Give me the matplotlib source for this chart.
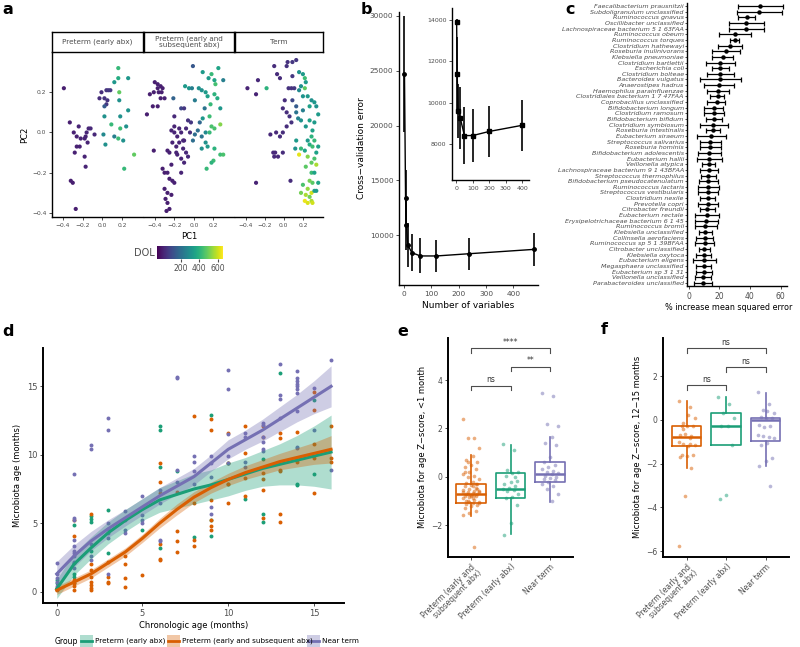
import numpy as np
import matplotlib.pyplot as plt
from matplotlib.patches import Rectangle
from matplotlib.lines import Line2D

W, H = 800, 647
GREY = "#4D4D4D"
GREEN, ORANGE, PURPLE = "#1B9E77", "#D95F02", "#7570B3"

# ---------------- panel a: PCA by group, coloured by DOL ----------------
a_titles = ["Preterm (early abx)", "Preterm (early and\nsubsequent abx)", "Term"]
a_pts1 = [(-0.39, 0.22, 10), (-0.33, 0.05, 10), (-0.32, -0.24, 10), (-0.30, -0.25, 10),
          (-0.27, -0.38, 10), (-0.24, 0.03, 20), (-0.29, 0.00, 15), (-0.26, -0.02, 15),
          (-0.22, -0.03, 20), (-0.18, -0.03, 20), (-0.16, 0.00, 25), (-0.14, 0.02, 25),
          (-0.12, 0.02, 30), (-0.17, -0.02, 20), (-0.23, -0.07, 15), (-0.26, -0.07, 15),
          (-0.28, -0.10, 15), (-0.18, -0.12, 20), (-0.15, -0.05, 20), (-0.08, -0.01, 30),
          (-0.17, -0.17, 20), (-0.03, 0.17, 40), (-0.01, 0.20, 40), (0.02, 0.17, 50),
          (0.04, 0.14, 60), (0.05, 0.16, 50), (0.04, 0.21, 50), (0.06, 0.21, 60),
          (0.08, 0.21, 60), (0.02, 0.13, 150), (0.02, 0.08, 300), (0.01, -0.01, 280),
          (0.03, -0.06, 300), (0.09, 0.04, 420), (0.12, -0.02, 250), (0.16, -0.03, 430),
          (0.18, 0.08, 300), (0.18, 0.02, 430), (0.24, 0.03, 300), (0.17, 0.16, 300),
          (0.17, 0.20, 480), (0.12, 0.25, 320), (0.16, 0.27, 380), (0.16, 0.32, 420),
          (0.26, 0.27, 320), (0.26, 0.11, 310), (0.21, -0.04, 300), (0.32, -0.11, 480),
          (0.22, -0.18, 420)]
a_pts2 = [(-0.40, 0.25, 10), (-0.37, 0.24, 10), (-0.34, 0.23, 10), (-0.32, 0.22, 10),
          (-0.37, 0.22, 10), (-0.41, 0.20, 10), (-0.36, 0.20, 10), (-0.33, 0.20, 10),
          (-0.30, 0.17, 15), (-0.34, 0.17, 10), (-0.45, 0.19, 10), (-0.42, 0.13, 10),
          (-0.37, 0.13, 10), (-0.48, 0.09, 10), (-0.41, -0.09, 10), (-0.23, 0.01, 20),
          (-0.20, 0.00, 20), (-0.17, -0.02, 20), (-0.13, 0.00, 25), (-0.10, -0.04, 25),
          (-0.15, -0.05, 20), (-0.18, -0.07, 20), (-0.11, -0.08, 25), (-0.08, -0.10, 30),
          (-0.22, -0.05, 20), (-0.25, -0.10, 15), (-0.17, -0.11, 20), (-0.06, -0.12, 30),
          (-0.13, -0.13, 25), (-0.10, -0.15, 25), (-0.20, 0.03, 20), (-0.08, 0.02, 30),
          (-0.04, 0.00, 40), (-0.15, 0.02, 20), (-0.18, -0.10, 20), (-0.27, -0.09, 15),
          (-0.11, -0.04, 25), (-0.23, -0.16, 15), (-0.27, -0.20, 15), (-0.30, -0.20, 10),
          (-0.25, -0.23, 10), (-0.22, -0.24, 15), (-0.30, -0.28, 10), (-0.27, -0.30, 10),
          (-0.23, -0.31, 10), (-0.29, -0.33, 10), (-0.27, -0.35, 10), (-0.25, -0.38, 10),
          (-0.28, -0.39, 10), (-0.20, -0.25, 15), (-0.32, -0.18, 10), (-0.13, -0.20, 20),
          (-0.20, 0.08, 30), (-0.13, 0.12, 100), (-0.10, 0.12, 60), (-0.06, 0.06, 50),
          (-0.03, 0.05, 60), (0.06, 0.05, 180), (0.01, -0.01, 200), (0.04, 0.01, 200),
          (0.08, -0.02, 220), (0.12, 0.00, 280), (-0.01, 0.33, 140), (-0.21, 0.17, 170),
          (-0.09, 0.23, 330), (-0.05, 0.22, 320), (-0.02, 0.22, 250), (0.01, 0.16, 240),
          (0.05, 0.22, 300), (0.08, 0.21, 300), (0.09, 0.30, 330), (0.12, 0.20, 330),
          (0.14, 0.18, 350), (0.15, 0.27, 330), (0.18, 0.29, 420), (0.21, 0.26, 360),
          (0.22, 0.24, 440), (0.25, 0.32, 360), (0.30, 0.26, 250), (0.21, 0.19, 400),
          (0.24, 0.17, 380), (0.27, 0.12, 320), (0.17, 0.14, 420), (0.11, 0.12, 220),
          (0.09, 0.07, 320), (0.16, 0.08, 430), (0.18, 0.03, 450), (0.21, 0.02, 450),
          (0.27, 0.04, 520), (0.12, -0.05, 300), (0.08, -0.08, 300), (0.14, -0.07, 330),
          (0.21, -0.08, 400), (0.27, -0.11, 430), (0.30, -0.11, 450), (0.20, -0.14, 430),
          (0.18, -0.15, 400), (0.13, -0.18, 420), (0.16, 0.00, 420), (-0.01, -0.04, 200)]
a_pts3 = [(-0.38, 0.22, 20), (-0.27, 0.26, 30), (-0.29, 0.19, 20), (-0.18, 0.22, 400),
          (-0.10, 0.33, 40), (-0.07, 0.29, 40), (-0.04, 0.27, 40), (0.03, 0.33, 50),
          (0.04, 0.35, 50), (0.13, 0.36, 60), (0.09, 0.35, 60), (0.09, 0.28, 60),
          (0.11, 0.22, 60), (0.08, 0.22, 50), (0.05, 0.22, 50), (0.01, 0.16, 40),
          (-0.01, 0.12, 40), (0.03, 0.10, 40), (0.06, 0.08, 50), (0.08, 0.05, 50),
          (0.03, 0.03, 40), (-0.01, 0.00, 40), (-0.08, 0.00, 30), (-0.14, -0.01, 30),
          (-0.04, -0.02, 40), (-0.11, -0.10, 30), (-0.09, -0.10, 30), (-0.06, -0.12, 30),
          (-0.10, -0.12, 30), (-0.01, -0.10, 40), (-0.29, -0.25, 20), (0.07, -0.24, 40),
          (0.09, 0.16, 100), (0.13, 0.13, 150), (0.16, 0.30, 300), (0.20, 0.29, 330),
          (0.22, 0.27, 430), (0.23, 0.25, 330), (0.18, 0.23, 300), (0.22, 0.22, 480),
          (0.16, 0.21, 280), (0.20, 0.18, 310), (0.25, 0.18, 330), (0.29, 0.16, 300),
          (0.32, 0.15, 320), (0.34, 0.13, 300), (0.27, 0.13, 350), (0.20, 0.11, 250),
          (0.13, 0.10, 220), (0.15, 0.07, 260), (0.18, 0.06, 300), (0.27, 0.06, 350),
          (0.32, 0.05, 330), (0.36, 0.09, 330), (0.23, 0.03, 320), (0.30, 0.01, 350),
          (0.29, -0.02, 400), (0.25, -0.04, 330), (0.32, -0.04, 420), (0.27, -0.06, 380),
          (0.30, -0.07, 430), (0.36, -0.07, 350), (0.13, -0.04, 330), (0.18, -0.08, 420),
          (0.22, -0.09, 360), (0.16, -0.11, 620), (0.25, -0.12, 520), (0.32, -0.13, 450),
          (0.29, -0.15, 480), (0.34, -0.16, 560), (0.23, -0.17, 470), (0.29, -0.20, 430),
          (0.32, -0.20, 350), (0.36, -0.25, 360), (0.30, -0.25, 470), (0.25, -0.28, 540),
          (0.20, -0.26, 450), (0.29, -0.30, 600), (0.32, -0.29, 350), (0.27, -0.32, 500),
          (0.22, -0.34, 630), (0.25, -0.35, 610), (0.29, -0.34, 560), (0.23, -0.31, 560),
          (0.30, -0.35, 600), (0.34, -0.29, 330), (0.12, -0.08, 300), (0.34, -0.10, 350),
          (0.27, -0.24, 500), (0.18, -0.30, 500)]

# ---------------- panel b: cross-validation error ----------------
b_nvar = [2, 6, 9, 14, 29, 60, 119, 236, 475]
b_err = [24700, 13400, 10900, 9100, 8400, 8100, 8100, 8300, 8700]
b_sd = [5300, 2500, 2300, 2000, 1700, 1600, 1450, 1450, 1500]
b_in_nvar = [3, 6, 12, 25, 50, 100, 200, 400]
b_in_err = [13900, 11400, 9600, 9250, 8400, 8400, 8600, 8900]
b_in_sd = [150, 1800, 1300, 1500, 1400, 1300, 1250, 1250]

# ---------------- panel c: variable importance ----------------
c_species = ["Faecalibacterium prausnitzii", "Subdoligranulum unclassified", "Ruminococcus gnavus",
             "Oscillibacter unclassified", "Lachnospiraceae bacterium 5 1 63FAA", "Ruminococcus obeum",
             "Ruminococcus torques", "Clostridium hathewayi", "Roseburia inulinivorans",
             "Klebsiella pneumoniae", "Clostridium bartlettii", "Escherichia coli",
             "Clostridium bolteae", "Bacteroides vulgatus", "Anaerostipes hadrus",
             "Haemophilus parainfluenzae", "Clostridiales bacterium 1 7 47FAA",
             "Coprobacillus unclassified", "Bifidobacterium longum", "Clostridium ramosum",
             "Bifidobacterium bifidum", "Clostridium symbiosum", "Roseburia intestinalis",
             "Eubacterium siraeum", "Streptococcus salivarius", "Roseburia hominis",
             "Bifidobacterium adolescentis", "Eubacterium hallii", "Veillonella atypica",
             "Lachnospiraceae bacterium 9 1 43BFAA", "Streptococcus thermophilus",
             "Bifidobacterium pseudocatenulatum", "Ruminococcus lactaris",
             "Streptococcus vestibularis", "Clostridium nexile", "Prevotella copri",
             "Citrobacter freundii", "Eubacterium rectale", "Erysipelotrichaceae bacterium 6 1 45",
             "Ruminococcus bromii", "Klebsiella unclassified", "Collinsella aerofaciens",
             "Ruminococcus sp 5 1 39BFAA", "Citrobacter unclassified", "Klebsiella oxytoca",
             "Eubacterium eligens", "Megasphaera unclassified", "Eubacterium sp 3 1 31",
             "Veillonella unclassified", "Parabacteroides unclassified"]
c_mean = [46.5, 45.9, 37.8, 37.6, 37.6, 30.2, 30.0, 26.7, 24.1, 22.2, 20.4, 20.4, 20.4, 20.4,
          20.0, 19.3, 18.9, 18.3, 16.5, 16.5, 16.5, 16.1, 16.1, 14.6, 13.9, 13.9, 13.5, 13.5,
          13.0, 13.0, 12.8, 12.8, 12.8, 12.8, 12.4, 12.4, 12.2, 11.7, 11.3, 10.9, 10.7, 10.4,
          10.4, 10.2, 10.0, 10.0, 9.8, 9.6, 9.3, 9.1]
c_lo = [32.2, 31.3, 32.4, 26.1, 26.1, 19.8, 26.7, 19.1, 15.0, 15.2, 11.3, 15.0, 11.7, 7.4,
        10.0, 12.2, 14.1, 12.2, 10.2, 10.2, 11.3, 7.4, 11.5, 5.2, 7.4, 7.4, 5.7, 5.2,
        8.5, 7.0, 7.8, 6.5, 5.9, 5.9, 7.6, 5.7, 7.0, 3.9, 3.9, 3.9, 6.5, 4.8,
        4.1, 6.7, 5.0, 2.6, 5.0, 4.6, 4.3, 3.5]
c_hi = [61.3, 60.7, 43.5, 49.3, 49.3, 40.7, 33.0, 34.6, 33.3, 28.9, 30.0, 26.3, 29.6, 33.9,
        29.8, 26.3, 23.3, 23.9, 22.6, 23.0, 21.7, 25.7, 20.7, 24.6, 21.1, 21.1, 21.1, 21.7,
        17.4, 19.3, 17.8, 19.3, 19.8, 19.3, 17.2, 19.3, 17.2, 19.6, 19.3, 18.3, 15.0, 16.1,
        16.7, 13.9, 14.8, 17.6, 14.6, 15.0, 14.3, 15.0]

# ---------------- panel d: microbiota age ----------------
d_months = list(range(17))
d_fit_green = [0.2, 2.0, 3.2, 4.3, 5.2, 6.0, 6.7, 7.1, 7.5, 7.8, 8.2, 8.6, 9.0, 9.3, 9.6, 9.9, 10.2]
d_fit_orange = [0.1, 0.7, 1.3, 2.1, 2.9, 3.9, 5.0, 6.0, 6.9, 7.6, 8.2, 8.7, 9.1, 9.5, 9.8, 10.1, 10.4]
d_fit_purple = [1.3, 2.6, 3.7, 4.6, 5.4, 6.2, 7.0, 7.7, 8.4, 9.4, 10.4, 11.1, 11.8, 12.6, 13.4, 14.2, 15.0]
d_ci_green = [0.7, 0.8, 0.8, 0.8, 0.8, 0.8, 0.9, 1.0, 1.1, 1.1, 1.2, 1.2, 1.3, 1.5, 1.8, 2.2, 2.7]
d_ci_orange = [0.3, 0.3, 0.3, 0.3, 0.3, 0.3, 0.35, 0.4, 0.4, 0.4, 0.45, 0.5, 0.55, 0.6, 0.7, 0.8, 1.0]
d_ci_purple = [0.9, 0.8, 0.7, 0.65, 0.6, 0.6, 0.6, 0.6, 0.6, 0.6, 0.7, 0.7, 0.8, 0.9, 1.0, 1.2, 1.5]
d_pts_purple = {0: [2.1, 1.3, 1.0, 0.7, 0.4, 0.2], 1: [8.6, 5.4, 5.2, 3.8, 3.3, 3.0, 2.8, 2.6, 2.2, 1.7],
                2: [10.7, 10.4, 3.5, 2.6, 2.3], 3: [12.7, 11.8, 5.0, 4.6, 4.3, 3.9, 1.3],
                4: [5.9, 5.2, 4.5, 4.3], 5: [7.0, 6.1, 5.6, 5.2, 5.0], 6: [7.4, 6.5, 3.8, 3.7],
                7: [15.7, 15.6, 8.9, 8.0], 8: [9.9, 9.5, 8.8, 7.9], 9: [9.9, 9.4, 8.4, 6.2, 5.7],
                10: [16.2, 14.8, 11.5, 9.9, 9.4], 11: [11.6, 11.3, 9.5, 9.1],
                12: [12.3, 12.2, 11.3, 10.9, 10.4, 10.3], 13: [16.6, 14.4, 14.1, 12.7],
                14: [16.1, 15.6, 15.4, 15.2, 15.0, 14.8, 14.5, 13.2, 10.6, 10.5],
                15: [14.9, 11.8], 16: [16.95, 8.9]}
d_pts_green = {0: [0.85, 0.6, 0.3], 1: [4.9, 2.1, 1.3, 1.1, 0.6], 2: [5.5, 5.3, 5.1, 3.0],
               3: [6.0, 2.8], 5: [4.5], 6: [12.1, 11.8, 9.1, 3.2], 7: [8.8], 8: [4.0],
               9: [12.9, 5.2, 4.1], 10: [9.4, 7.9], 11: [6.8], 12: [9.7, 5.7, 5.1],
               13: [16.0], 14: [9.6, 7.9, 7.8], 15: [14.0, 8.6]}
d_pts_orange = {0: [0.25, 0.1], 1: [5.2, 4.1, 0.85, 0.6, 0.4, 0.1],
                2: [5.7, 2.0, 1.6, 1.1, 0.7, 0.5, 0.25, 0.1], 3: [2.2, 1.1, 0.7, 0.6],
                4: [2.6, 2.0, 1.0, 0.35], 5: [1.2], 6: [9.4, 8.0, 7.2, 3.5, 2.4, 2.3],
                7: [7.3, 4.4, 3.7, 2.9], 8: [12.8, 6.5, 3.8, 3.3], 9: [12.6, 11.8, 6.7, 5.2, 4.8, 4.5],
                10: [11.6, 9.4, 7.9, 6.5], 11: [12.1, 10.1, 8.3, 7.0],
                12: [12.1, 11.3, 8.7, 8.2, 7.4, 5.4], 13: [11.6, 11.2, 8.9, 8.8, 5.7, 5.1],
                14: [11.7, 9.5], 15: [14.6, 13.3, 10.8, 9.8, 7.2], 16: [12.1, 9.8, 9.5]}

# ---------------- panels e, f: z-scores ----------------
box_groups = ["Preterm (early and\nsubsequent abx)", "Preterm (early abx)", "Near term"]
box_colors = [ORANGE, GREEN, PURPLE]
# (whislo, q1, med, q3, whishi)
e_stats = [(-1.63, -1.10, -0.72, -0.31, 0.90), (-2.37, -0.87, -0.52, 0.17, 1.31),
           (-1.03, -0.22, 0.12, 0.62, 1.66)]
f_stats = [(-2.20, -1.22, -0.80, -0.30, 0.86), (-1.15, -1.15, -0.29, 0.30, 1.03),
           (-2.13, -0.99, -0.03, 0.07, 1.22)]
e_pts = [[2.4, 1.6, 1.6, 1.2, 0.85, 0.7, 0.6, 0.5, 0.4, 0.3, 0.2, 0.1, 0.05, 0.0, -0.1, -0.2,
          -0.25, -0.3, -0.35, -0.4, -0.45, -0.5, -0.55, -0.6, -0.62, -0.65, -0.68, -0.7, -0.72,
          -0.75, -0.78, -0.8, -0.85, -0.9, -0.95, -1.0, -1.05, -1.1, -1.12, -1.15, -1.2, -1.3,
          -1.4, -1.5, -1.6, -2.9, -0.7, -0.6, -0.9, -1.0, -0.5, -0.8, 0.2, -0.3, -1.05, -0.65,
          -0.75, 0.6, -1.1, -0.4],
         [1.35, 1.1, 0.28, 0.2, 0.15, 0.03, -0.16, -0.2, -0.3, -0.4, -0.45, -0.5, -0.55, -0.6,
          -0.7, -0.85, -0.9, -1.17, -1.9, -2.4, 0.0],
         [3.45, 3.34, 2.17, 2.1, 1.66, 1.4, 1.3, 0.8, 0.6, 0.5, 0.4, 0.3, 0.25, 0.2, 0.15, 0.1,
          0.05, 0.0, -0.05, -0.1, -0.15, -0.2, -0.3, -0.4, -0.5, -0.7, -1.0]]
f_pts = [[0.87, 0.6, -0.15, 0.1, 0.2, -0.3, -0.3, -0.28, -0.7, -0.75, -0.65, -1.0, -1.1, -1.1,
          -1.15, -1.2, -1.6, -1.6, -1.65, -1.7, -2.2, -3.47, -5.78, -0.85, -0.4],
         [1.03, 0.73, 0.3, 0.08, -0.28, -0.28, -1.15, -3.45, -3.6],
         [1.25, 0.72, 0.47, 0.33, 0.38, 0.15, 0.1, 0.08, -0.22, -0.28, -0.35, -0.7, -0.8, -0.75,
          -0.85, -1.05, -1.17, -1.75, -1.9, -2.13, -3.05]]
e_sig = [(1, 2, 3.76, "ns"), (2, 3, 4.55, "**"), (1, 3, 5.31, "****")]
f_sig = [(1, 2, 1.57, "ns"), (2, 3, 2.41, "ns"), (1, 3, 3.26, "ns")]

fig = plt.figure(figsize=(8, 6.47), dpi=100)


def rect(l, t, r, b):
    return [l / W, 1 - b / H, (r - l) / W, (b - t) / H]


def classic(ax, fs=6):
    for s in ["top", "right"]:
        ax.spines[s].set_visible(False)
    for s in ["left", "bottom"]:
        ax.spines[s].set_linewidth(1.0)
    ax.tick_params(labelsize=fs, colors=GREY, length=2.5, width=0.6, pad=1.5)
    ax.tick_params(axis="both", which="both", color="0.2")


# ---- a ----
facets = [(52, 143), (144, 234), (235, 323)]
for i, (pts, (l, r)) in enumerate(zip([a_pts1, a_pts2, a_pts3], facets)):
    ax = fig.add_axes(rect(l, 52, r, 217))
    xs = [p[0] for p in pts]
    ys = [p[1] for p in pts]
    cs = [p[2] for p in pts]
    sc = ax.scatter(xs, ys, c=cs, cmap="viridis", vmin=-50, vmax=650, s=9, linewidths=0)
    ax.set_xlim(-0.51, 0.41)
    ax.set_ylim(-0.42, 0.40)
    classic(ax, 4.3)
    ax.set_xticks([-0.4, -0.2, 0.0, 0.2])
    ax.set_xticklabels(["\u22120.4", "\u22120.2", "0.0", "0.2"])
    ax.set_yticks([-0.4, -0.2, 0.0, 0.2])
    ax.set_yticklabels(["\u22120.4", "\u22120.2", "0.0", "0.2"])
    if i > 0:
        ax.spines["left"].set_visible(False)
        ax.tick_params(axis="y", left=False, labelleft=False)
    else:
        ax.set_ylabel("PC2", fontsize=6, labelpad=2)
    if i == 1:
        ax.set_xlabel("PC1", fontsize=6, labelpad=3)
    sax = fig.add_axes(rect(l, 32, r, 52))
    sax.set_xticks([])
    sax.set_yticks([])
    for s in sax.spines.values():
        s.set_linewidth(1.0)
    sax.text(0.5, 0.5, a_titles[i], ha="center", va="center", fontsize=5.2, color=GREY,
             linespacing=1.0, transform=sax.transAxes)

cax = fig.add_axes(rect(157, 246, 223, 259))
cb = fig.colorbar(sc, cax=cax, orientation="horizontal")
cb.outline.set_visible(False)
cb.set_ticks([200, 400, 600])
cax.tick_params(labelsize=5.5, colors=GREY, length=2, pad=1.5)
fig.text(134 / W, 1 - 253 / H, "DOL", fontsize=7, color=GREY, va="center")

# ---- b ----
ax = fig.add_axes(rect(399, 12, 538, 285))
ax.errorbar(b_nvar, b_err, yerr=b_sd, color="black", lw=1.0, elinewidth=1.2,
            marker="o", ms=2.5)
ax.set_xlim(-18, 490)
ax.set_ylim(5450, 30360)
classic(ax, 5.3)
ax.set_xticks([0, 100, 200, 300, 400])
ax.set_yticks([10000, 15000, 20000, 25000, 30000])
ax.set_xlabel("Number of variables", fontsize=6.5, labelpad=3)
ax.set_ylabel("Cross\u2212validation error", fontsize=6.5, labelpad=3)

ax = fig.add_axes(rect(452, 8, 529, 180))
ax.errorbar(b_in_nvar, b_in_err, yerr=b_in_sd, color="black", lw=1.0, elinewidth=1.2,
            marker="s", ms=2.3)
ax.set_xlim(-25, 440)
ax.set_ylim(6240, 14600)
classic(ax, 4.5)
ax.set_xticks([0, 100, 200, 300, 400])
ax.set_yticks([8000, 10000, 12000, 14000])

# ---- c ----
ax = fig.add_axes(rect(687.3, 2.6, 786.7, 286.3))
ypos = np.arange(1, len(c_species) + 1)
c_mean_a = np.array(c_mean)
xerr = [c_mean_a - np.array(c_lo), np.array(c_hi) - c_mean_a]
ax.errorbar(c_mean, ypos, xerr=xerr, fmt="o", color="black", ms=2.2, elinewidth=0.9,
            capsize=1.8, capthick=0.9)
ax.set_ylim(len(c_species) + 0.6, 0.4)
ax.set_xlim(-1, 64)
classic(ax, 5.5)
ax.set_yticks(ypos)
ax.set_yticklabels(c_species, fontsize=4.6, style="italic")
ax.tick_params(axis="y", length=1.5, pad=1)
ax.set_xticks([0, 20, 40, 60])
ax.set_xlabel("% increase mean squared error", fontsize=5.8, labelpad=2)
ax.xaxis.set_label_coords(0.42, -0.058)

# ---- d ----
ax = fig.add_axes(rect(42.7, 348, 344.3, 603.3))
groups = [(d_pts_green, d_fit_green, d_ci_green, GREEN),
          (d_pts_orange, d_fit_orange, d_ci_orange, ORANGE),
          (d_pts_purple, d_fit_purple, d_ci_purple, PURPLE)]
for pts, fit, ci, col in groups:
    xs = [m for m, vals in pts.items() for v in vals]
    ys = [v for m, vals in pts.items() for v in vals]
    ax.scatter(xs, ys, s=8, color=col, linewidths=0, zorder=2)
for pts, fit, ci, col in groups:
    fit = np.array(fit)
    ci = np.array(ci)
    ax.fill_between(d_months, fit - ci, fit + ci, color=col, alpha=0.35, lw=0, zorder=3)
    ax.plot(d_months, fit, color=col, lw=2.2, zorder=4)
ax.set_xlim(-0.82, 16.77)
ax.set_ylim(-0.85, 17.8)
classic(ax, 6)
ax.spines["left"].set_linewidth(1.4)
ax.spines["bottom"].set_linewidth(1.4)
ax.set_xticks([0, 5, 10, 15])
ax.set_yticks([0, 5, 10, 15])
ax.set_xlabel("Chronologic age (months)", fontsize=6, labelpad=2)
ax.set_ylabel("Microbiota age (months)", fontsize=6, labelpad=3)

# legend for d
fig.text(55 / W, 1 - 641 / H, "Group", fontsize=5.5, va="center", color="black")
leg_items = [(80, "Preterm (early abx)", GREEN), (167, "Preterm (early and subsequent abx)", ORANGE),
             (307, "Near term", PURPLE)]
for lx, lab, col in leg_items:
    fig.add_artist(Rectangle((lx / W, 1 - 647.5 / H), 13 / W, 13 / H, transform=fig.transFigure,
                             facecolor=col, alpha=0.35, lw=0))
    fig.add_artist(Line2D([(lx + 1) / W, (lx + 12) / W], [1 - 641 / H, 1 - 641 / H],
                          transform=fig.transFigure, color=col, lw=2))
    fig.text((lx + 15) / W, 1 - 641 / H, lab, fontsize=5.2, va="center", color="black")


# ---- e, f ----
def box_panel(l, stats, pts, sig, ylim, yticks, ylabel):
    ax = fig.add_axes(rect(l, 338, l + 125.3, 556.7))
    bstats = []
    for s in stats:
        bstats.append(dict(whislo=s[0], q1=s[1], med=s[2], q3=s[3], whishi=s[4], fliers=[]))
    for i, (bs, col) in enumerate(zip(bstats, box_colors)):
        ax.bxp([bs], positions=[i + 1], widths=0.75, showfliers=False, showcaps=False,
               boxprops=dict(color=col, lw=1.2), whiskerprops=dict(color=col, lw=1.2),
               medianprops=dict(color=col, lw=1.8))
        vals = pts[i]
        jit = [((k * 7) % 11 - 5) / 5 * 0.2 for k in range(len(vals))]
        ax.scatter(np.array(jit) + i + 1, vals, s=7, color=col, alpha=0.5, linewidths=0,
                   zorder=3)
    dy = 0.035 * (ylim[1] - ylim[0])
    for a, b, y, lab in sig:
        ax.plot([a, a, b, b], [y - dy * 0.6, y, y, y - dy * 0.6], color="0.3", lw=0.8)
        ax.text((a + b) / 2, y + dy * 0.2, lab, ha="center", va="bottom", fontsize=5.5,
                color="0.2")
    ax.set_xlim(0.41, 3.58)
    ax.set_ylim(*ylim)
    classic(ax, 5.5)
    ax.spines["left"].set_linewidth(1.4)
    ax.spines["bottom"].set_linewidth(1.4)
    ax.set_yticks(yticks)
    ax.set_yticklabels([str(t).replace("-", "\u2212") for t in yticks])
    ax.set_xticks([1, 2, 3])
    ax.set_xticklabels(box_groups, rotation=45, ha="right", rotation_mode="anchor",
                       fontsize=5.5, linespacing=1.0)
    ax.set_ylabel(ylabel, fontsize=6, labelpad=3)
    return ax


box_panel(447.7, e_stats, e_pts, e_sig, (-3.31, 5.74), [-2, 0, 2, 4],
          "Microbiota for age Z\u2212score, <1 month")
box_panel(663.3, f_stats, f_pts, f_sig, (-6.26, 3.74), [-6, -4, -2, 0, 2],
          "Microbiota for age Z\u2212score, 12\u221215 months")

# panel letters
for lab, x, y in [("a", 2, 9), ("b", 361, 9), ("c", 565, 9), ("d", 2, 332), ("e", 397, 332),
                  ("f", 601, 330)]:
    fig.text(x / W, 1 - y / H, lab, fontsize=11.5, fontweight="bold", va="center")

fig.savefig("out.png", dpi=100)
